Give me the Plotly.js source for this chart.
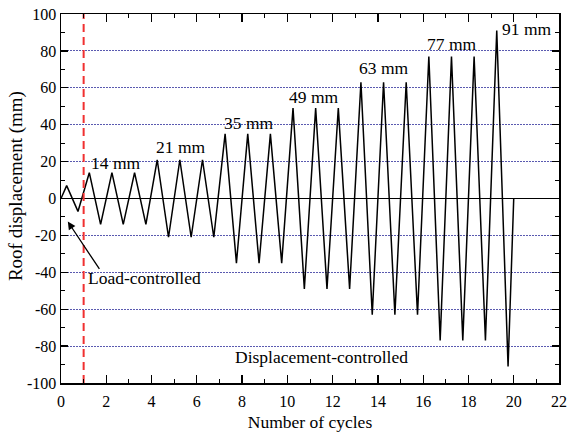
<!DOCTYPE html>
<html><head><meta charset="utf-8">
<script src="https://cdn.plot.ly/plotly-3.0.1.min.js"></script>
<style>html,body{margin:0;padding:0;background:#fff}#chart{width:567px;height:432px}</style>
</head><body><div id="chart"></div>
<script>
const cycles = [0,0.25,0.75,1.25,1.75,2.25,2.75,3.25,3.75,4.25,4.75,5.25,5.75,6.25,6.75,7.25,7.75,8.25,8.75,9.25,9.75,10.25,10.75,11.25,11.75,12.25,12.75,13.25,13.75,14.25,14.75,15.25,15.75,16.25,16.75,17.25,17.75,18.25,18.75,19.25,19.75,20];
const displacement = [0,7,-7,14,-14,14,-14,14,-14,21,-21,21,-21,21,-21,35,-35,35,-35,35,-35,49,-49,49,-49,49,-49,63,-63,63,-63,63,-63,77,-77,77,-77,77,-77,91,-91,0];
const levelLabels = ["14 mm","21 mm","35 mm","49 mm","63 mm","77 mm","91 mm"];
const levelX = [2.4, 5.3, 8.29, 11.16, 14.23, 17.25, 20.56];
const levelY = [19.0, 27.7, 40.9, 55, 70.8, 83.9, 91.7];
const yTickVals = [-100,-80,-60,-40,-20,0,20,40,60,80,100];
const yTickText = ["-100","-80","-60","-40","-20","0","20","40","60","80","100"];
const switchCycle = 1;

const fam = "'Liberation Serif', 'Times New Roman', serif";
const font = {family: fam, color: "#000"};
const traces = [
  {x: cycles, y: displacement, mode: "lines", line: {color: "#000", width: 1.5}, hoverinfo: "none", showlegend: false},
  {x: [switchCycle, switchCycle], y: [-100, 100], mode: "lines", line: {color: "#f03030", width: 2, dash: "8px,5px"}, showlegend: false}
];
const anns = levelLabels.map((t, i) => ({x: levelX[i], y: levelY[i], text: t, showarrow: false, xanchor: "center", yanchor: "middle", font: {...font, size: 17.5}}));
anns.push({x: 0.3, y: -12.5, ax: 1.74, ay: -39, axref: "x", ayref: "y", text: "", showarrow: true, arrowhead: 2, arrowsize: 1.2, arrowwidth: 1.3, arrowcolor: "#000"});
anns.push({x: 1.12, y: -43, text: "Load-controlled", showarrow: false, xanchor: "left", yanchor: "middle", font: {...font, size: 17.5}});
anns.push({x: 7.58, y: -86, text: "Displacement-controlled", showarrow: false, xanchor: "left", yanchor: "middle", font: {...font, size: 17.5}});
anns.push({xref: "paper", yref: "paper", x: -0.0914, y: 0.535, text: "Roof displacement (mm)", textangle: -90, showarrow: false, xanchor: "center", yanchor: "middle", font: {...font, size: 19}});

const layout = {
  width: 567, height: 432,
  margin: {l: 61, r: 8, t: 14, b: 49},
  paper_bgcolor: "#fff", plot_bgcolor: "#fff",
  font: {...font, size: 16},
  xaxis: {
    range: [0, 22], dtick: 2, tick0: 0, ticks: "inside", ticklen: 8, tickwidth: 1.3, tickcolor: "#000",
    showline: true, linecolor: "#000", linewidth: 1.5, mirror: "ticks", showgrid: false, zeroline: false,
    minor: {dtick: 1, ticks: "inside", ticklen: 4, tickcolor: "#000", tickwidth: 1},
    tickfont: {...font, size: 16}, ticklabelstandoff: 3,
    title: {text: "Number of cycles", font: {...font, size: 17.5}, standoff: 8}
  },
  yaxis: {
    range: [-100, 100], tickmode: "array", tickvals: yTickVals, ticktext: yTickText,
    ticks: "inside", ticklen: 7, tickwidth: 1.3, tickcolor: "#000",
    showline: true, linecolor: "#000", linewidth: 1.5, mirror: "ticks",
    showgrid: true, gridcolor: "#5a5ab0", griddash: "1.5px,1.5px", gridwidth: 1,
    zeroline: true, zerolinecolor: "#000", zerolinewidth: 1.5,
    minor: {tickmode: "linear", tick0: 0, dtick: 10, ticks: "inside", ticklen: 4, tickcolor: "#000", tickwidth: 1, showgrid: false},
    tickfont: {...font, size: 16}
  },
  annotations: anns
};
Plotly.newPlot("chart", traces, layout, {displayModeBar: false, staticPlot: true});
</script></body></html>
